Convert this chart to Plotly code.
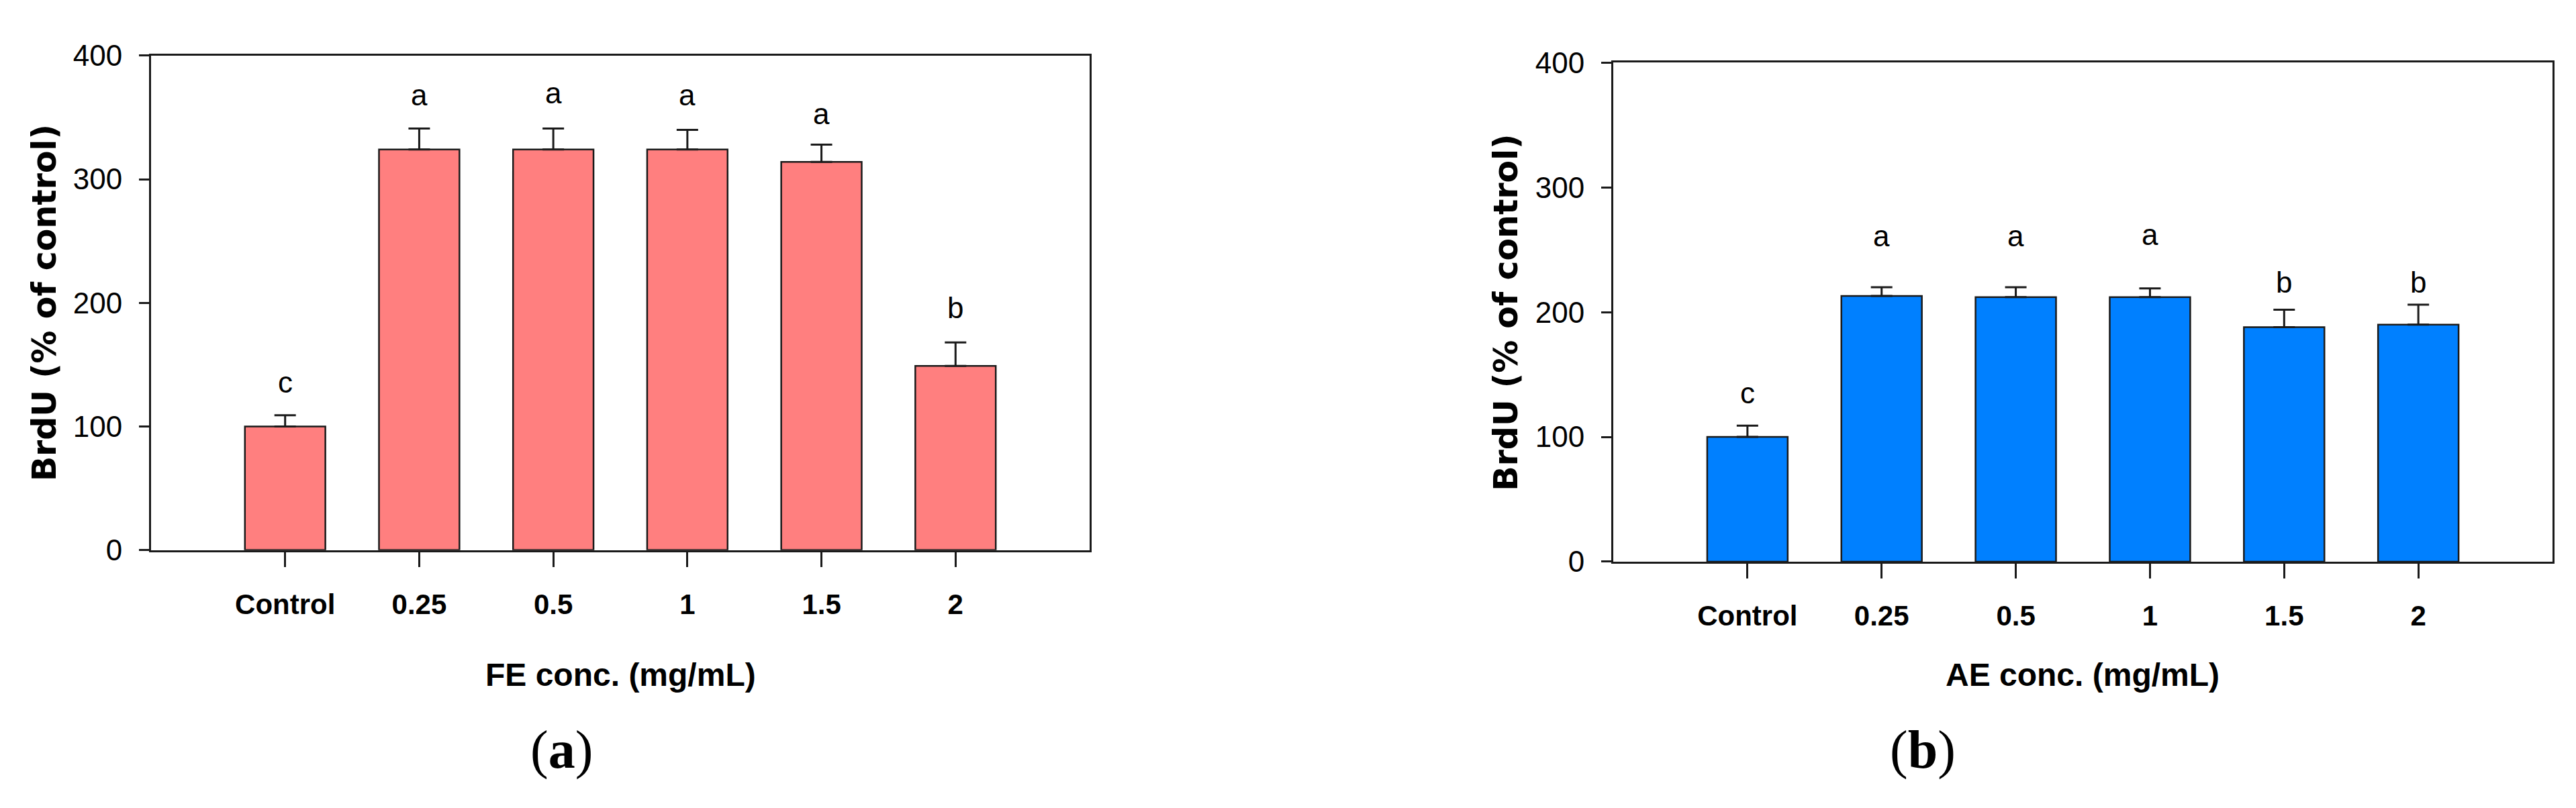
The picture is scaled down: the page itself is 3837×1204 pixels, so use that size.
import plotly.graph_objects as go

categories = ["Control", "0.25", "0.5", "1", "1.5", "2"]

fe_mean = [100, 324, 324, 324, 314, 149]
fe_err = [9, 17, 17, 16, 14, 19]
fe_letters = ["c", "a", "a", "a", "a", "b"]
fe_letter_y = [136, 368, 370, 368, 353, 196]

ae_mean = [100, 213, 212, 212, 188, 190]
ae_err = [9, 7, 8, 7, 14, 16]
ae_letters = ["c", "a", "a", "a", "b", "b"]
ae_letter_y = [135, 261, 261, 262, 224, 224]

y_ticks = [0, 100, 200, 300, 400]

W, H = 3837, 1204
SANS = "Liberation Sans Narrow, Arial Narrow, Liberation Sans, Arial, sans-serif"
LINE = "#1a1a1a"


def px(x):
    return x / W


def py(y):
    return 1 - y / H


fig = go.Figure()

for i, (mean, err, color) in enumerate([(fe_mean, fe_err, "#FF7F7F"),
                                        (ae_mean, ae_err, "#0080FF")]):
    fig.add_trace(go.Bar(
        x=categories, y=mean, width=0.6,
        marker=dict(color=color, line=dict(color=LINE, width=2.5)),
        error_y=dict(type="data", array=err, arrayminus=[0] * len(err),
                     symmetric=False, color=LINE, thickness=3, width=16),
        xaxis="x" if i == 0 else "x2", yaxis="y" if i == 0 else "y2",
        showlegend=False,
    ))

xa = dict(type="category", range=[-1, 6], showline=True, linecolor=LINE,
          linewidth=3, mirror=True, ticks="outside", ticklen=22, tickwidth=3,
          tickcolor=LINE, showgrid=False, zeroline=False,
          tickfont=dict(family=SANS, size=42, color="black", weight="bold"),
          ticklabelstandoff=20)
ya = dict(range=[0, 400], tickvals=y_ticks, showline=True, linecolor=LINE,
          linewidth=3, mirror=True, ticks="outside", ticklen=15, tickwidth=3,
          tickcolor=LINE, showgrid=False, zeroline=False,
          tickfont=dict(family=SANS, size=44, color="black"),
          ticklabelstandoff=16)

fig.update_layout(
    width=W, height=H,
    margin=dict(l=0, r=0, t=0, b=0),
    paper_bgcolor="white", plot_bgcolor="white",
    bargap=0.4,
    xaxis=dict(xa, domain=[px(217), px(1615)], anchor="y"),
    yaxis=dict(ya, domain=[py(820), py(52)], anchor="x"),
    xaxis2=dict(xa, domain=[px(2395), px(3794)], anchor="y2"),
    yaxis2=dict(ya, domain=[py(838), py(63)], anchor="x2"),
)

annotations = []
for letters, ys, xr, yr in [(fe_letters, fe_letter_y, "x", "y"),
                            (ae_letters, ae_letter_y, "x2", "y2")]:
    # category axis: annotations use the category index
    for idx, (lab, yv) in enumerate(zip(letters, ys)):
        annotations.append(dict(x=idx, y=yv, xref=xr, yref=yr, text=lab,
                                showarrow=False, xanchor="center", yanchor="middle",
                                font=dict(family=SANS, size=44, color="black")))

# axis titles
for x, y in [(58, 436), (2236, 451)]:
    annotations.append(dict(x=px(x), y=py(y), xref="paper", yref="paper",
                            text="<b>BrdU (% of control)</b>", textangle=-90,
                            showarrow=False, xanchor="center", yanchor="middle",
                            font=dict(family="DejaVu Sans", size=49, color="black")))
for x, text in [(916, "FE conc. (mg/mL)"), (3094, "AE conc. (mg/mL)")]:
    annotations.append(dict(x=px(x), y=py(1014), xref="paper", yref="paper",
                            text="<b>" + text + "</b>", showarrow=False,
                            xanchor="center", yanchor="middle",
                            font=dict(family=SANS, size=48, color="black")))

# panel captions
for x, lab in [(828, "a"), (2856, "b")]:
    annotations.append(dict(x=px(x), y=py(1131), xref="paper", yref="paper",
                            text="(<b>" + lab + "</b>)", showarrow=False,
                            xanchor="center", yanchor="middle",
                            font=dict(family="Liberation Serif", size=80, color="black")))

fig.update_layout(annotations=annotations)
fig.write_html("out.html")
